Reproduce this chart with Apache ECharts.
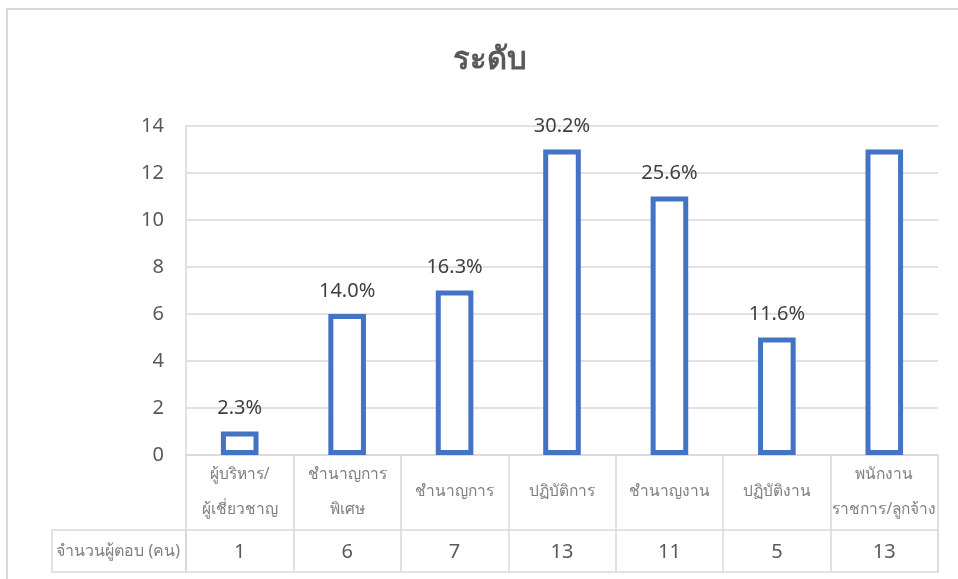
<!DOCTYPE html>
<html>
<head>
<meta charset="utf-8">
<script src="https://cdn.jsdelivr.net/npm/echarts@6/dist/echarts.min.js"></script>
<style>html,body{margin:0;padding:0;background:#fff}#c{width:958px;height:579px}</style>
</head>
<body>
<div id="c"></div>
<script>
const categories = ['ผู้บริหาร/\nผู้เชี่ยวชาญ', 'ชำนาญการ\nพิเศษ', 'ชำนาญการ', 'ปฏิบัติการ', 'ชำนาญงาน', 'ปฏิบัติงาน', 'พนักงาน\nราชการ/ลูกจ้าง'];
const counts = [1, 6, 7, 13, 11, 5, 13];
const pctLabels = ['2.3%', '14.0%', '16.3%', '30.2%', '25.6%', '11.6%', ''];
const rowLabel = 'จำนวนผู้ตอบ (คน)';
const titleText = 'ระดับ';
const yMin = 0, yMax = 14, yStep = 2;

const font = '"Noto Sans", "Open Sans", sans-serif';
const gridColor = '#d9d9d9';

const chart = echarts.init(document.getElementById('c'));
chart.setOption({
  animation: false,
  textStyle: { fontFamily: font },
  title: {
    text: titleText, left: 448, top: 40,
    textStyle: { fontSize: 31, fontWeight: 'bold', color: '#595959', fontFamily: font }
  },
  graphic: [
    { type: 'rect', shape: { x: 7, y: 9, width: 1000, height: 1000 }, style: { fill: 'none', stroke: gridColor, lineWidth: 2 }, silent: true },
    { type: 'rect', shape: { x: 52, y: 530, width: 134, height: 42 }, style: { fill: 'none', stroke: gridColor, lineWidth: 1.5 }, silent: true }
  ],
  grid: [
    { left: 186, right: 20, top: 126, height: 329 },
    { left: 186, right: 20, top: 530, height: 42, show: true, borderColor: gridColor, borderWidth: 1.5, backgroundColor: 'transparent' }
  ],
  xAxis: [
    {
      type: 'category', gridIndex: 0, data: categories,
      axisLine: { show: true, lineStyle: { color: gridColor, width: 1.5 } },
      axisTick: { show: true, interval: 0, length: 75, lineStyle: { color: gridColor, width: 1.5 } },
      axisLabel: { interval: 0, fontSize: 15.5, color: '#7f7f7f', lineHeight: 35, margin: 37, verticalAlign: 'middle', fontFamily: font }
    },
    {
      type: 'category', gridIndex: 1, data: counts.map(String),
      axisLine: { show: false }, axisTick: { show: false },
      splitLine: { show: true, interval: 0, lineStyle: { color: gridColor, width: 1.5 } },
      axisLabel: { interval: 0, inside: true, margin: 10, fontSize: 20, color: '#595959', fontFamily: font }
    }
  ],
  yAxis: [
    {
      type: 'value', gridIndex: 0, min: yMin, max: yMax, interval: yStep,
      axisLine: { show: true, lineStyle: { color: gridColor, width: 1.5 } },
      axisTick: { show: false },
      splitLine: { show: true, lineStyle: { color: gridColor, width: 1.5 } },
      axisLabel: { fontSize: 20, color: '#595959', margin: 22, fontFamily: font }
    },
    {
      type: 'category', gridIndex: 1, data: [rowLabel],
      axisLine: { show: false }, axisTick: { show: false },
      axisLabel: { fontSize: 16, color: '#7f7f7f', margin: 6, fontFamily: font }
    }
  ],
  series: [
    {
      type: 'bar', xAxisIndex: 0, yAxisIndex: 0, data: counts, barWidth: '35%',
      itemStyle: { color: '#ffffff', borderColor: '#4472C4', borderWidth: 5 },
      label: {
        show: true, position: 'top', distance: 13, fontSize: 20, color: '#404040', fontFamily: font,
        formatter: p => pctLabels[p.dataIndex]
      }
    }
  ]
});
</script>
</body>
</html>
